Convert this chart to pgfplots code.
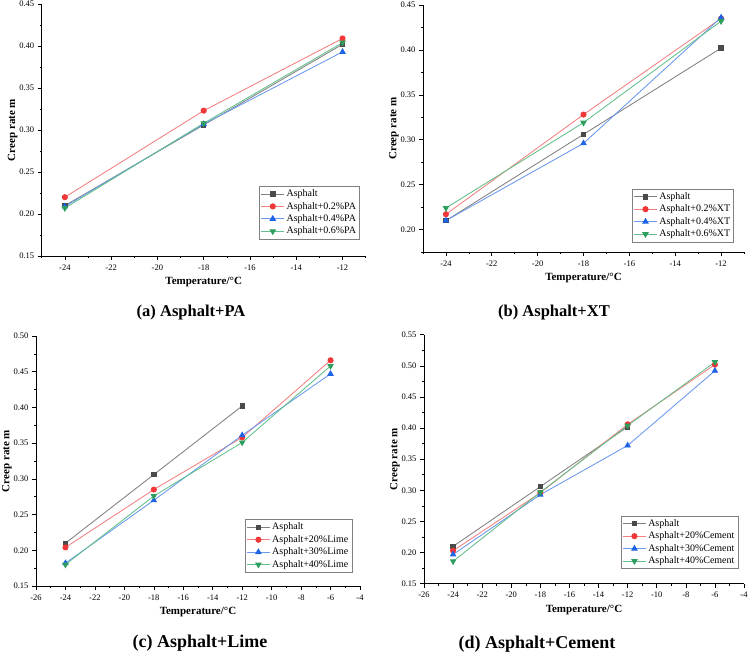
\documentclass[border=0pt]{standalone}
\usepackage{pgfplots}
\pgfplotsset{compat=1.18}
\usepackage{fontspec}
\setmainfont{Liberation Serif}

% marker fills and the lighter connecting lines
\definecolor{mgrey}{HTML}{4A4A4A}
\definecolor{lgrey}{HTML}{808080}
\definecolor{mred}{HTML}{F03838}
\definecolor{lred}{HTML}{F28080}
\definecolor{mblue}{HTML}{1E64E6}
\definecolor{lblue}{HTML}{6898EE}
\definecolor{mgreen}{HTML}{2E9E5E}
\definecolor{lgreen}{HTML}{62BE8A}

\pgfplotsset{
  panel/.style={
    scale only axis,
    axis lines*=left,
    axis line style={-, line width=0.7pt},
    tick align=outside,
    tick style={black, line width=0.6pt},
    major tick length=4pt,
    minor tick length=2pt,
    xtick distance=2,
    ytick distance=0.05,
    minor x tick num=1,
    minor y tick num=1,
    ticklabel style={font=\fontsize{8.5}{10}\selectfont},
    xticklabel style={yshift=-1pt},
    /pgf/number format/assume math mode=true,
    yticklabel style={/pgf/number format/.cd, fixed, fixed zerofill, precision=2},
    label style={font=\bfseries\fontsize{11}{13}\selectfont},
    xlabel={Temperature/°C},
    ylabel={Creep rate m},
    xlabel style={yshift=0pt},
    ylabel style={yshift=-5pt},
    legend cell align=left,
    legend style={font=\fontsize{10}{12.5}\selectfont, draw=gray, line width=0.6pt,
      inner sep=1.5pt, row sep=0pt, anchor=north east},
    legend image code/.code={%
      \draw[line width=0.9pt, mark repeat=2, mark phase=2]
        plot coordinates {(0cm,0cm) (0.4cm,0cm) (0.8cm,0cm)};},
  },
  sA/.style={color=lgrey, line width=0.85pt, mark=square*, mark size=2.2pt, mark options={fill=mgrey, draw=mgrey}},
  sB/.style={color=lred, line width=0.85pt, mark=*, mark size=2.6pt, mark options={fill=mred, draw=mred}},
  sC/.style={color=lblue, line width=0.85pt, mark=triangle*, mark size=3pt, mark options={fill=mblue, draw=mblue}},
  sD/.style={color=lgreen, line width=0.85pt, mark=triangle*, mark size=3pt, mark options={fill=mgreen, draw=mgreen, rotate=180}},
}

\begin{document}
\begin{tikzpicture}

% (a) PA
\begin{axis}[panel, at={(41.7pt,398pt)}, anchor=south west, width=324pt, height=252pt,
  xmin=-25, xmax=-11, ymin=0.15, ymax=0.45,
  legend style={at={(0.982,0.278)}}]
\addplot[sA] coordinates {(-24,0.210) (-18,0.306) (-12,0.402)};
\addplot[sB] coordinates {(-24,0.220) (-18,0.323) (-12,0.409)};
\addplot[sC] coordinates {(-24,0.209) (-18,0.307) (-12,0.393)};
\addplot[sD] coordinates {(-24,0.207) (-18,0.308) (-12,0.404)};
\legend{Asphalt, Asphalt+0.2\%PA, Asphalt+0.4\%PA, Asphalt+0.6\%PA}
\end{axis}

% (b) XT
\begin{axis}[panel, at={(423pt,402pt)}, anchor=south west, width=321pt, height=247pt,
  xmin=-25, xmax=-11, ymin=0.175, ymax=0.45, ytick={0.20,0.25,...,0.451},
  minor ytick={0.175,0.225,...,0.45},
  legend style={at={(0.969,0.256)}}]
\addplot[sA] coordinates {(-24,0.210) (-18,0.306) (-12,0.402)};
\addplot[sB] coordinates {(-24,0.217) (-18,0.328) (-12,0.435)};
\addplot[sC] coordinates {(-24,0.210) (-18,0.296) (-12,0.436)};
\addplot[sD] coordinates {(-24,0.224) (-18,0.319) (-12,0.432)};
\legend{Asphalt, Asphalt+0.2\%XT, Asphalt+0.4\%XT, Asphalt+0.6\%XT}
\end{axis}

% (c) Lime
\begin{axis}[panel, at={(36pt,68pt)}, anchor=south west, width=324pt, height=250pt,
  xmin=-26, xmax=-4, ymin=0.15, ymax=0.50,
  legend style={at={(0.976,0.267)}}]
\addplot[sA] coordinates {(-24,0.210) (-18,0.306) (-12,0.402)};
\addplot[sB] coordinates {(-24,0.204) (-18,0.285) (-12,0.358) (-6,0.466)};
\addplot[sC] coordinates {(-24,0.182) (-18,0.270) (-12,0.361) (-6,0.447)};
\addplot[sD] coordinates {(-24,0.180) (-18,0.276) (-12,0.351) (-6,0.458)};
\legend{Asphalt, Asphalt+20\%Lime, Asphalt+30\%Lime, Asphalt+40\%Lime}
\end{axis}

% (d) Cement
\begin{axis}[panel, at={(424pt,70.3pt)}, anchor=south west, width=320pt, height=249pt,
  xmin=-26, xmax=-4, ymin=0.15, ymax=0.55,
  legend style={at={(0.982,0.273)}}]
\addplot[sA] coordinates {(-24,0.210) (-18,0.306) (-12,0.402)};
\addplot[sB] coordinates {(-24,0.203) (-18,0.296) (-12,0.406) (-6,0.502)};
\addplot[sC] coordinates {(-24,0.197) (-18,0.293) (-12,0.372) (-6,0.492)};
\addplot[sD] coordinates {(-24,0.186) (-18,0.297) (-12,0.404) (-6,0.506)};
\legend{Asphalt, Asphalt+20\%Cement, Asphalt+30\%Cement, Asphalt+40\%Cement}
\end{axis}

% panel captions
\node[font=\bfseries\fontsize{16.5}{20}\selectfont] at (191pt,341pt) {(a) Asphalt+PA};
\node[font=\bfseries\fontsize{16.5}{20}\selectfont] at (554pt,341pt) {(b) Asphalt+XT};
\node[font=\bfseries\fontsize{18}{21}\selectfont] at (200pt,11pt) {(c) Asphalt+Lime};
\node[font=\bfseries\fontsize{18}{21}\selectfont] at (537pt,10pt) {(d) Asphalt+Cement};

% fixed page frame
\pgfresetboundingbox
\path[use as bounding box] (0,0) rectangle (750pt,654pt);
\end{tikzpicture}
\end{document}
